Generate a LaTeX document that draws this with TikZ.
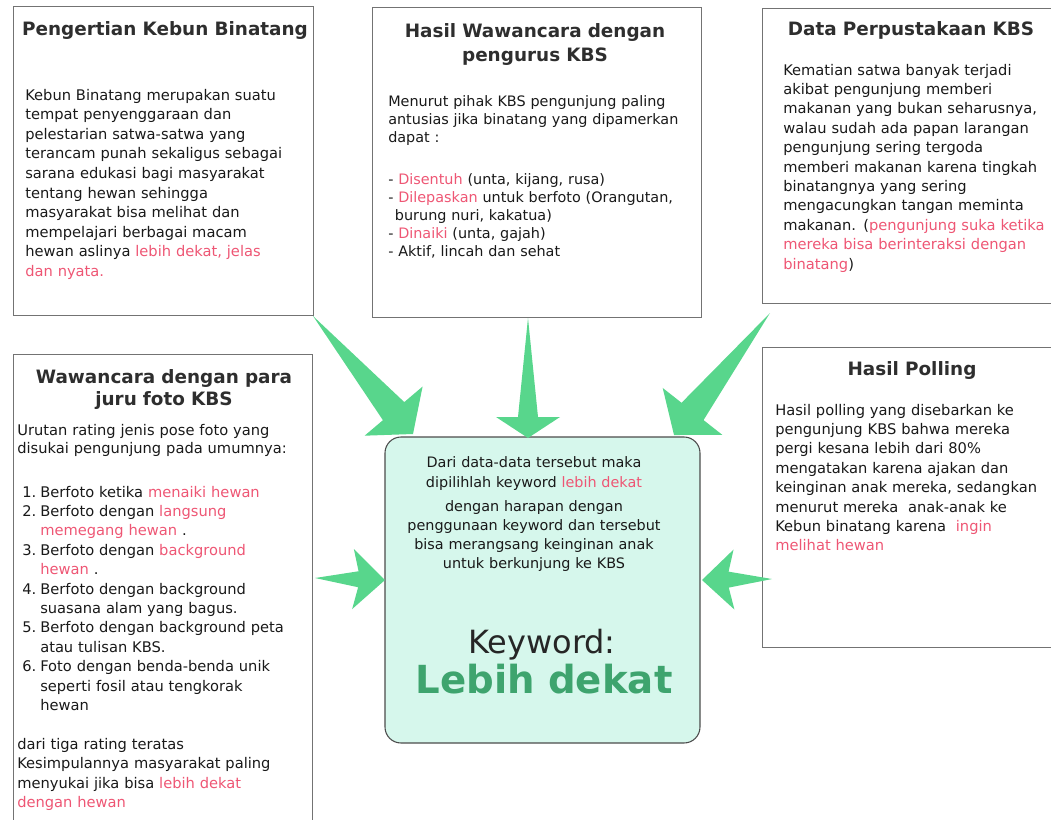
\documentclass[tikz,border=0pt]{standalone}
\usepackage{fontspec}
\setmainfont{DejaVu Sans}
\usepackage{tikz}
\usetikzlibrary{positioning,fit,calc}
\definecolor{kbsred}{RGB}{238,86,116}
\definecolor{kbsgreen}{RGB}{88,214,140}
\definecolor{kbsdark}{RGB}{62,164,110}
\definecolor{kbsmint}{RGB}{214,247,236}
\tikzset{panel/.style={draw=black!55, line width=0.7pt, inner sep=0pt}}
\tikzset{keypanel/.style={draw=black!70, line width=0.8pt, rounded corners=12pt, fill=kbsmint, inner sep=0pt}}
\tikzset{ptitle/.style={font=\fontsize{13.8}{18.5}\selectfont\bfseries, text=black!82, anchor=base, align=center, inner sep=0pt, text width=#1}, ptitle/.default=220pt}
\tikzset{pbody/.style={font=\fontsize{11}{14.6}\selectfont, text=black!90, anchor=base west, align=left, inner sep=0pt, text width=#1}, pbody/.default=210pt}
\tikzset{bigarrow/.style={fill=kbsgreen}}
\newcommand\merah[1]{\textcolor{kbsred}{#1}}
\newcommand\itemno[1]{\makebox[13.5pt][l]{#1}}
\newcommand\itemgap{\hspace*{13.5pt}}
\newcommand\fatarrow[7][]{
				% #4 = back of head, #5 = joint of shaft, both measured from the tip
				\coordinate (#2-b) at ($(#3)!#4!(#2)$);
				\coordinate (#2-j) at ($(#3)!#5!(#2)$);
				\fill[bigarrow, #1] (#2) -- ($(#2-j)!#7!90:(#3)$) -- ($(#2-b)!#6!90:(#3)$)
					-- (#3) -- ($(#2-b)!#6!-90:(#3)$) -- ($(#2-j)!#7!-90:(#3)$) -- cycle;
				}

\begin{document}
\begin{tikzpicture}[x=0.75pt, y=-0.75pt]
	\useasboundingbox (0,0) rectangle (1051,819);
	\clip (0,0) rectangle (1051,819);

	% source panels
	\node[panel, fit={(13,6) (313,315)}] (pengertian) {};
	\node[panel, fit={(372,7) (701,317)}] (pengurus) {};
	\node[panel, fit={(762,8) (1056,303)}] (perpus) {};
	\node[panel, fit={(13,354) (312,824)}] (jurufoto) {};
	\node[panel, fit={(762,347) (1056,647)}] (polling) {};
	\node[keypanel, fit={(385,437) (700,743)}] (keyword) {};

	\node[ptitle=224pt] (pengertian-t) at (165,35) {Pengertian Kebun Binatang};
	\node[pbody=214pt, font=\fontsize{11}{14.7}\selectfont] (pengertian-b) at (25,100)
		{Kebun Binatang merupakan suatu\\ tempat penyenggaraan dan\\
		pelestarian satwa-satwa yang\\ terancam punah sekaligus sebagai\\
		sarana edukasi bagi masyarakat\\ tentang hewan sehingga\\
		masyarakat bisa melihat dan\\ mempelajari berbagai macam\\
		hewan aslinya \merah{lebih dekat, jelas}\\ \merah{dan nyata.}};

	\node[ptitle=240pt] (pengurus-t) at (535,37) {Hasil Wawancara dengan\\ pengurus KBS};
	\node[pbody=232pt, font=\fontsize{10.8}{13.5}\selectfont] (pengurus-b) at (388,106)
		{Menurut pihak KBS pengunjung paling\\ antusias jika binatang yang dipamerkan\\
		dapat :\\[18.5pt]
		- \merah{Disentuh} (unta, kijang, rusa)\\
		- \merah{Dilepaskan} untuk berfoto (Orangutan,\\
		\hspace*{5pt}burung nuri, kakatua)\\
		- \merah{Dinaiki} (unta, gajah)\\
		- Aktif, lincah dan sehat};

	\node[ptitle=250pt] (perpus-t) at (911,35) {Data Perpustakaan KBS};
	\node[pbody=205pt, font=\fontsize{11}{14.55}\selectfont] (perpus-b) at (783,75)
		{Kematian satwa banyak terjadi\\ akibat pengunjung memberi\\
		makanan yang bukan seharusnya,\\ walau sudah ada papan larangan\\
		pengunjung sering tergoda\\ memberi makanan karena tingkah\\
		binatangnya yang sering\\ mengacungkan tangan meminta\\
		makanan. (\merah{pengunjung suka ketika}\\
		\merah{mereka bisa berinteraksi dengan}\\ \merah{binatang})};

	\node[ptitle=224pt, font=\fontsize{13.8}{16.5}\selectfont\bfseries] (jurufoto-t) at (164,383)
		{Wawancara dengan para\\ juru foto KBS};
	\node[pbody=218pt, font=\fontsize{11}{13.5}\selectfont] (jurufoto-b) at (17,435)
		{Urutan rating jenis pose foto yang\\ disukai pengunjung pada umumnya:};
	\node[pbody=214pt, font=\fontsize{11}{14.55}\selectfont] (jurufoto-l) at (22,497)
		{\itemno{1.}Berfoto ketika \merah{menaiki hewan}\\
		\itemno{2.}Berfoto dengan \merah{langsung}\\
		\itemgap\merah{memegang hewan} .\\
		\itemno{3.}Berfoto dengan \merah{background}\\
		\itemgap\merah{hewan} .\\
		\itemno{4.}Berfoto dengan background\\
		\itemgap suasana alam yang bagus.\\
		\itemno{5.}Berfoto dengan background peta\\
		\itemgap atau tulisan KBS.\\
		\itemno{6.}Foto dengan benda-benda unik\\
		\itemgap seperti fosil atau tengkorak\\
		\itemgap hewan};
	\node[pbody=218pt, font=\fontsize{11}{14.7}\selectfont] (jurufoto-k) at (17,749)
		{dari tiga rating teratas\\ Kesimpulannya masyarakat paling\\
		menyukai jika bisa \merah{lebih dekat}\\ \merah{dengan hewan}};

	\node[ptitle=200pt] (polling-t) at (912,375) {Hasil Polling};
	\node[pbody=210pt, font=\fontsize{11}{14.55}\selectfont] (polling-b) at (775,415)
		{Hasil polling yang disebarkan ke\\ pengunjung KBS bahwa mereka\\
		pergi kesana lebih dari 80\%\\ mengatakan karena ajakan dan\\
		keinginan anak mereka, sedangkan\\ menurut mereka\ \ anak-anak ke\\
		Kebun binatang karena \ \merah{ingin}\\ \merah{melihat hewan}};

	% result
	\node[pbody=226pt, anchor=base, align=center, font=\fontsize{10.8}{14.2}\selectfont] (keyword-b) at (534,467)
		{Dari data-data tersebut maka\\[1.5pt] dipilihlah keyword \merah{lebih dekat}\\[3.5pt]
		dengan harapan dengan\\ penggunaan keyword dan tersebut\\
		bisa merangsang keinginan anak\\ untuk berkunjung ke KBS};
	\node[anchor=base, inner sep=0pt, text=black!85, font=\fontsize{24}{28}\selectfont] (keyword-k) at (542,653) {Keyword:};
	\node[anchor=base, inner sep=0pt, text=kbsdark, font=\fontsize{29}{34}\selectfont\bfseries] (keyword-l) at (544,693) {Lebih dekat};

	% arrows into the result
	\coordinate (tl-s) at (313,316);
	\coordinate (tl-e) at (413,434);
	\coordinate (tm-s) at (528,318);
	\coordinate (tm-e) at (528,438);
	\coordinate (tr-s) at (770,313);
	\coordinate (tr-e) at (674,435);
	\coordinate (ml-s) at (315,578);
	\coordinate (ml-e) at (385,580);
	\coordinate (mr-s) at (772,579);
	\coordinate (mr-e) at (702,580);
	\fatarrow{tl-s}{tl-e}{22.5pt}{22.5pt}{28.5pt}{10.5pt}
	\fatarrow{tm-s}{tm-e}{15.75pt}{15.75pt}{24pt}{7.5pt}
	\fatarrow{tr-s}{tr-e}{22.5pt}{22.5pt}{28.5pt}{10.5pt}
	\fatarrow{ml-s}{ml-e}{24pt}{20pt}{22.5pt}{6pt}
	\fatarrow{mr-s}{mr-e}{24pt}{20pt}{22.5pt}{6pt}
\end{tikzpicture}
\end{document}
